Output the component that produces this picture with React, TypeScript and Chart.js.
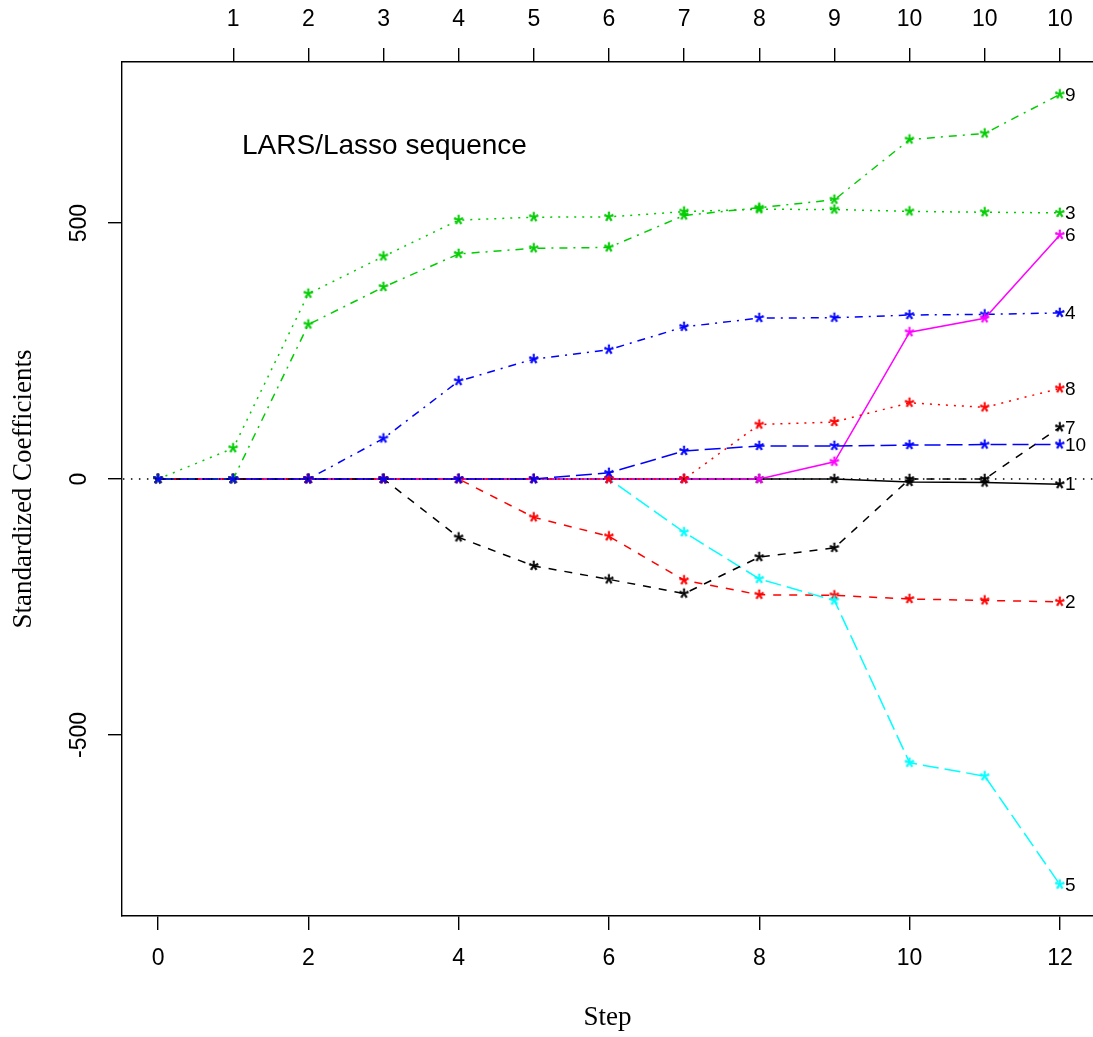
import React, { useEffect, useRef } from 'react';
import { Chart, registerables } from 'chart.js';

Chart.register(...registerables);

// ---- data ----
const steps = [0, 1, 2, 3, 4, 5, 6, 7, 8, 9, 10, 11, 12];
const bottomTicks = [0, 2, 4, 6, 8, 10, 12];
const topTickSteps = [1, 2, 3, 4, 5, 6, 7, 8, 9, 10, 11, 12];
const topTickLabels = ['1', '2', '3', '4', '5', '6', '7', '8', '9', '10', '10', '10'];
const yTicks = [-500, 0, 500];
const seriesNames = ['1', '2', '3', '4', '5', '6', '7', '8', '9', '10'];

const coef1 = [0, 0, 0, 0, 0, 0, 0, 0, 0, 0, -5.72, -7.01, -10.01];
const coef2 = [0, 0, 0, 0, 0, -74.92, -111.98, -197.76, -226.13, -227.18, -234.4, -237.1, -239.82];
const coef3 = [0, 60.12, 361.89, 434.76, 505.66, 511.35, 512.04, 522.26, 526.89, 526.39, 522.65, 521.08, 519.84];
const coef4 = [0, 0, 0, 79.24, 191.27, 234.15, 252.53, 297.16, 314.39, 314.95, 320.34, 321.55, 324.39];
const coef5 = [0, 0, 0, 0, 0, 0, 0, -103.95, -195.11, -237.34, -554.27, -580.44, -792.18];
const coef6 = [0, 0, 0, 0, 0, 0, 0, 0, 0, 33.63, 286.74, 313.86, 476.75];
const coef7 = [0, 0, 0, 0, -114.1, -169.71, -196.05, -223.93, -152.48, -134.6, 0, 0, 101.04];
const coef8 = [0, 0, 0, 0, 0, 0, 0, 0, 106.34, 111.38, 148.9, 139.86, 177.06];
const coef9 = [0, 0, 301.78, 374.92, 439.66, 450.67, 452.39, 514.75, 529.92, 545.48, 663.03, 674.94, 751.28];
const coef10 = [0, 0, 0, 0, 0, 0, 12.08, 54.77, 64.49, 64.61, 66.33, 67.18, 67.63];

const seriesValues = [coef1, coef2, coef3, coef4, coef5, coef6, coef7, coef8, coef9, coef10];

const titleText = 'LARS/Lasso sequence';
const xTitle = 'Step';
const yTitle = 'Standardized Coefficients';

// ---- styles ----
const seriesColors = ['#000000', '#FF0000', '#00CD00', '#0000FF', '#00FFFF', '#FF00FF', '#000000', '#FF0000', '#00CD00', '#0000FF'];
const dashed = [8, 8];
const dotted = [2, 6];
const dotdash = [2, 6, 8, 6];
const longdash = [16, 6];
const seriesDashes = [[], dashed, dotted, dotdash, longdash, [], dashed, dotted, dotdash, longdash];

const SANS = '"Liberation Sans", Arial, Helvetica, sans-serif';
const SERIF = '"Liberation Serif", "Times New Roman", serif';

function makeStar(color: string): HTMLCanvasElement {
  const size = 16;
  const c = document.createElement('canvas');
  c.width = size;
  c.height = size;
  const ctx = c.getContext('2d')!;
  ctx.font = `25px ${SANS}`;
  ctx.fillStyle = color;
  ctx.strokeStyle = color;
  ctx.lineWidth = 0.6;
  ctx.textAlign = 'left';
  ctx.textBaseline = 'alphabetic';
  const m = ctx.measureText('*');
  const L = m.actualBoundingBoxLeft, R = m.actualBoundingBoxRight;
  const A = m.actualBoundingBoxAscent, D = m.actualBoundingBoxDescent;
  const x = size / 2 - (R - L) / 2;
  const y = size / 2 - (D - A) / 2;
  ctx.fillText('*', x, y);
  ctx.strokeText('*', x, y);
  return c;
}

const textPlugin = {
  id: 'larsText',
  afterDatasetsDraw(chart: any) {
    const { ctx, chartArea, scales } = chart;
    const xs = scales.x, ys = scales.y;
    ctx.save();
    ctx.fillStyle = '#000';
    ctx.font = `28px ${SANS}`;
    ctx.textAlign = 'left';
    ctx.textBaseline = 'alphabetic';
    ctx.fillText(titleText, chartArea.left + 120, chartArea.top + 92);
    ctx.font = `19px ${SANS}`;
    ctx.textBaseline = 'middle';
    const last = steps.length - 1;
    seriesValues.forEach((vals, i) => {
      const px = xs.getPixelForValue(steps[last]) + 5;
      const py = ys.getPixelForValue(vals[last]);
      ctx.fillText(seriesNames[i], px, py + 1);
    });
    ctx.restore();
  },
};

export default function App() {
  const ref = useRef<HTMLCanvasElement | null>(null);
  useEffect(() => {
    if (!ref.current) return;
    const datasets: any[] = seriesValues.map((vals, i) => ({
      label: seriesNames[i],
      data: steps.map((s, j) => ({ x: s, y: vals[j] })),
      borderColor: seriesColors[i],
      backgroundColor: seriesColors[i],
      borderWidth: 1.5,
      borderDash: seriesDashes[i],
      pointStyle: makeStar(seriesColors[i]),
      pointRadius: 4,
      pointHoverRadius: 4,
      tension: 0,
      fill: false,
      order: 10 - i,
      xAxisID: 'x',
      yAxisID: 'y',
    }));
    datasets.push({
      label: 'zero',
      data: [{ x: -1, y: 0 }, { x: 14, y: 0 }],
      borderColor: '#000',
      borderWidth: 1.4,
      borderDash: [1.5, 6.5],
      pointRadius: 0,
      fill: false,
      order: 0,
      xAxisID: 'x',
      yAxisID: 'y',
    });

    const axisGrid = {
      display: true,
      drawOnChartArea: false,
      drawTicks: true,
      tickLength: 14,
      color: '#000',
      tickColor: '#000',
      lineWidth: 1.4,
    };
    const axisBorder = { display: true, color: '#000', width: 1.4 };

    const chart = new Chart(ref.current, {
      type: 'line',
      data: { datasets },
      plugins: [textPlugin],
      options: {
        animation: false,
        responsive: false,
        devicePixelRatio: 1,
        layout: { padding: 0, autoPadding: false },
        plugins: { legend: { display: false }, tooltip: { enabled: false }, title: { display: false } },
        scales: {
          x: {
            type: 'linear',
            position: 'bottom',
            min: -0.48,
            max: 12.44,
            grid: axisGrid,
            border: axisBorder,
            afterBuildTicks: (axis: any) => {
              axis.ticks = bottomTicks.map((v) => ({ value: v }));
            },
            afterFit: (axis: any) => {
              axis.height = 121;
              axis.paddingLeft = 0;
              axis.paddingRight = 0;
            },
            ticks: {
              autoSkip: false,
              maxRotation: 0,
              minRotation: 0,
              padding: 15,
              color: '#000',
              font: { family: SANS, size: 23 },
              callback: (v: any) => String(v),
            },
            title: {
              display: true,
              text: xTitle,
              color: '#000',
              font: { family: SERIF, size: 27 },
              padding: { top: 0, bottom: 3 },
            },
          },
          x2: {
            type: 'linear',
            position: 'top',
            min: -0.48,
            max: 12.44,
            grid: axisGrid,
            border: axisBorder,
            afterBuildTicks: (axis: any) => {
              axis.ticks = topTickSteps.map((v) => ({ value: v }));
            },
            afterFit: (axis: any) => {
              axis.height = 62;
              axis.paddingLeft = 0;
              axis.paddingRight = 0;
            },
            ticks: {
              autoSkip: false,
              maxRotation: 0,
              minRotation: 0,
              padding: 15,
              color: '#000',
              font: { family: SANS, size: 23 },
              callback: (v: any) => {
                const k = topTickSteps.indexOf(Number(v));
                return k >= 0 ? topTickLabels[k] : '';
              },
            },
          },
          y: {
            type: 'linear',
            position: 'left',
            min: -853.5,
            max: 814.5,
            grid: axisGrid,
            border: axisBorder,
            afterBuildTicks: (axis: any) => {
              axis.ticks = yTicks.map((v) => ({ value: v }));
            },
            afterFit: (axis: any) => {
              axis.width = 122;
              axis.paddingTop = 0;
              axis.paddingBottom = 0;
            },
            ticks: {
              autoSkip: false,
              minRotation: 90,
              maxRotation: 90,
              crossAlign: 'center',
              padding: 5,
              color: '#000',
              font: { family: SANS, size: 23 },
              callback: (v: any) => String(v),
            },
            title: {
              display: true,
              text: yTitle,
              color: '#000',
              font: { family: SERIF, size: 27 },
              padding: { top: 8, bottom: 0 },
            },
          },
        },
      } as any,
    });
    return () => chart.destroy();
  }, []);

  return (
    <div style={{ position: 'absolute', left: 0, top: 0, width: 1093, height: 1037, background: '#fff' }}>
      <canvas ref={ref} width={1093} height={1037} style={{ width: 1093, height: 1037, display: 'block' }} />
    </div>
  );
}
